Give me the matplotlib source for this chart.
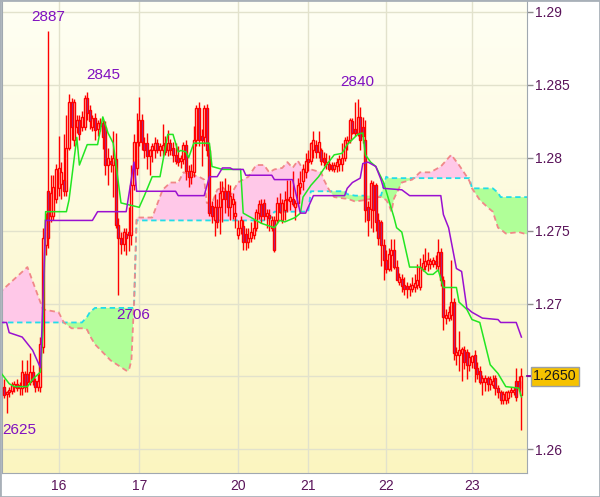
import numpy as np
import matplotlib
matplotlib.use("Agg")
import matplotlib.pyplot as plt
from matplotlib.colors import LinearSegmentedColormap
from matplotlib.transforms import blended_transform_factory
from matplotlib.patches import Rectangle

# prices are written as the last four digits, 2643 -> 1.2643
opens = [
    2643, 2638, 2639, 2640, 2643, 2645, 2642, 2642, 2652, 2652,
    2646, 2653, 2647, 2643, 2643, 2670, 2740, 2777, 2760, 2760,
    2772, 2779, 2782, 2785, 2777, 2807, 2838, 2812, 2821, 2826,
    2821, 2821, 2841, 2833, 2821, 2827, 2820, 2824, 2824, 2821,
    2795, 2798, 2795, 2799, 2754, 2745, 2741, 2748, 2749, 2747,
    2781, 2793, 2811, 2826, 2810, 2810, 2801, 2805, 2805, 2810,
    2805, 2805, 2810, 2805, 2810, 2807, 2802, 2800, 2798, 2799,
    2809, 2791, 2787, 2790, 2812, 2834, 2815, 2814, 2834, 2805,
    2767, 2757, 2766, 2766, 2772, 2777, 2777, 2766, 2768, 2760,
    2747, 2752, 2753, 2748, 2742, 2745, 2747, 2752, 2762, 2768,
    2769, 2760, 2761, 2752, 2757, 2757, 2769, 2757, 2764, 2771,
    2770, 2772, 2766, 2769, 2780, 2784, 2790, 2799, 2798, 2805,
    2809, 2804, 2805, 2800, 2796, 2796, 2795, 2792, 2794, 2796,
    2796, 2800, 2810, 2812, 2825, 2820, 2817, 2828, 2821, 2812,
    2766, 2765, 2781, 2781, 2757, 2756, 2740, 2730, 2724, 2733,
    2737, 2725, 2715, 2717, 2713, 2712, 2710, 2710, 2711, 2713,
    2711, 2724, 2726, 2727, 2727, 2727, 2729, 2726, 2735, 2716,
    2690, 2690, 2692, 2701, 2665, 2665, 2666, 2668, 2667, 2658,
    2660, 2665, 2656, 2654, 2646, 2646, 2649, 2645, 2644, 2649,
    2642, 2639, 2634, 2634, 2635, 2639, 2639, 2647, 2647, 2637,
]
highs = [
    2648, 2640, 2643, 2646, 2647, 2648, 2646, 2661, 2654, 2661,
    2666, 2658, 2649, 2652, 2677, 2752, 2762, 2887, 2788, 2788,
    2796, 2815, 2797, 2816, 2829, 2844, 2841, 2840, 2829, 2829,
    2832, 2843, 2845, 2836, 2829, 2831, 2826, 2827, 2826, 2825,
    2807, 2802, 2818, 2817, 2759, 2749, 2752, 2752, 2766, 2795,
    2816, 2831, 2842, 2830, 2814, 2817, 2806, 2810, 2814, 2813,
    2810, 2823, 2815, 2819, 2813, 2811, 2810, 2808, 2802, 2811,
    2812, 2795, 2796, 2822, 2836, 2838, 2820, 2836, 2837, 2808,
    2770, 2775, 2772, 2784, 2784, 2786, 2782, 2781, 2776, 2770,
    2757, 2760, 2757, 2752, 2752, 2756, 2758, 2765, 2771, 2772,
    2772, 2765, 2765, 2760, 2760, 2773, 2776, 2772, 2777, 2785,
    2785, 2791, 2771, 2786, 2791, 2796, 2803, 2805, 2811, 2818,
    2812, 2818, 2807, 2804, 2803, 2802, 2797, 2797, 2800, 2802,
    2810, 2814, 2815, 2827, 2827, 2838, 2840, 2835, 2828, 2826,
    2770, 2785, 2784, 2783, 2762, 2757, 2744, 2737, 2738, 2744,
    2744, 2730, 2721, 2720, 2718, 2715, 2714, 2718, 2720, 2727,
    2731, 2734, 2738, 2735, 2731, 2732, 2733, 2744, 2738, 2719,
    2696, 2698, 2730, 2704, 2670, 2681, 2670, 2671, 2669, 2667,
    2665, 2668, 2660, 2657, 2651, 2651, 2650, 2650, 2651, 2651,
    2644, 2641, 2640, 2640, 2641, 2643, 2643, 2656, 2650, 2656,
]
lows = [
    2635, 2625, 2636, 2638, 2639, 2640, 2637, 2637, 2639, 2639,
    2644, 2644, 2639, 2640, 2639, 2666, 2733, 2738, 2756, 2757,
    2769, 2774, 2772, 2774, 2774, 2805, 2812, 2808, 2817, 2812,
    2818, 2819, 2826, 2820, 2818, 2812, 2815, 2818, 2806, 2788,
    2781, 2790, 2773, 2752, 2706, 2734, 2736, 2733, 2736, 2740,
    2778, 2788, 2808, 2805, 2800, 2792, 2788, 2797, 2800, 2803,
    2801, 2801, 2802, 2801, 2802, 2797, 2796, 2794, 2793, 2796,
    2785, 2780, 2782, 2787, 2808, 2808, 2794, 2808, 2801, 2760,
    2755, 2746, 2752, 2748, 2756, 2762, 2760, 2757, 2758, 2752,
    2744, 2748, 2737, 2737, 2738, 2742, 2744, 2750, 2758, 2755,
    2757, 2752, 2750, 2750, 2735, 2755, 2762, 2755, 2757, 2763,
    2764, 2767, 2757, 2767, 2775, 2778, 2786, 2791, 2796, 2800,
    2800, 2800, 2795, 2794, 2792, 2791, 2791, 2790, 2790, 2791,
    2791, 2798, 2805, 2810, 2816, 2815, 2815, 2805, 2810, 2756,
    2746, 2752, 2749, 2750, 2740, 2726, 2716, 2721, 2722, 2722,
    2724, 2716, 2713, 2708, 2706, 2704, 2705, 2708, 2708, 2710,
    2709, 2722, 2723, 2722, 2724, 2725, 2724, 2722, 2712, 2682,
    2686, 2688, 2689, 2661, 2658, 2654, 2647, 2655, 2648, 2654,
    2656, 2646, 2648, 2645, 2637, 2640, 2640, 2641, 2642, 2637,
    2635, 2631, 2631, 2631, 2632, 2636, 2637, 2633, 2640, 2613,
]
closes = [
    2637, 2639, 2641, 2644, 2645, 2642, 2644, 2653, 2643, 2646,
    2653, 2647, 2643, 2647, 2672, 2745, 2758, 2745, 2776, 2780,
    2792, 2793, 2790, 2777, 2807, 2838, 2821, 2838, 2826, 2816,
    2828, 2841, 2831, 2825, 2827, 2819, 2824, 2822, 2814, 2795,
    2800, 2796, 2800, 2754, 2745, 2741, 2749, 2745, 2747, 2781,
    2811, 2811, 2826, 2811, 2805, 2801, 2805, 2808, 2810, 2805,
    2808, 2809, 2804, 2810, 2805, 2802, 2798, 2797, 2800, 2809,
    2791, 2787, 2791, 2812, 2834, 2812, 2812, 2834, 2805, 2762,
    2760, 2766, 2756, 2776, 2777, 2772, 2766, 2774, 2772, 2762,
    2752, 2757, 2742, 2742, 2745, 2749, 2752, 2763, 2768, 2760,
    2760, 2762, 2759, 2757, 2737, 2769, 2763, 2769, 2771, 2772,
    2773, 2768, 2769, 2781, 2783, 2792, 2798, 2797, 2810, 2812,
    2804, 2811, 2798, 2797, 2797, 2792, 2792, 2795, 2797, 2799,
    2800, 2812, 2812, 2826, 2817, 2817, 2828, 2812, 2815, 2764,
    2757, 2783, 2764, 2756, 2745, 2740, 2730, 2724, 2734, 2737,
    2725, 2716, 2718, 2712, 2710, 2710, 2712, 2713, 2714, 2716,
    2725, 2728, 2729, 2730, 2729, 2730, 2727, 2735, 2716, 2691,
    2692, 2694, 2701, 2666, 2667, 2668, 2669, 2660, 2658, 2663,
    2664, 2656, 2652, 2646, 2649, 2649, 2645, 2648, 2647, 2642,
    2639, 2634, 2638, 2639, 2639, 2641, 2641, 2636, 2642, 2650,
]

# tenkan (green) and kijun (purple), read at their turning points
tenkan_idx = [-1, 2, 4, 9, 11, 14, 15, 16, 24, 25, 28, 29, 32, 36, 38, 40, 42,
              45, 52, 54, 57, 60, 63, 65, 67, 68, 70, 71, 73, 79, 80, 84, 91,
              92, 95, 99, 104, 106, 108, 112, 114, 115, 118, 121, 124, 127,
              130, 132, 136, 138, 139, 141, 143, 146, 148, 150, 151, 153, 156,
              160, 163, 165, 167, 169, 174, 175, 178, 180, 183, 187, 190, 193,
              198, 199]
tenkan = [2652, 2645, 2643, 2643, 2648, 2653, 2682, 2763, 2763, 2771, 2814,
          2795, 2809, 2809, 2828, 2817, 2810, 2769, 2766, 2774, 2787, 2787,
          2816, 2816, 2804, 2805, 2804, 2800, 2810, 2810, 2794, 2792, 2792,
          2762, 2759, 2755, 2752, 2757, 2756, 2759, 2762, 2773, 2781, 2787,
          2795, 2802, 2803, 2809, 2816, 2817, 2802, 2797, 2794, 2783, 2771,
          2759, 2752, 2749, 2725, 2725, 2720, 2720, 2723, 2711, 2711, 2701,
          2696, 2689, 2687, 2658, 2652, 2643, 2642, 2636]
kijun_idx = [-1, 1, 2, 7, 11, 14, 15, 16, 34, 36, 47, 50, 51, 66, 67, 77, 79,
             82, 84, 87, 88, 92, 93, 103, 104, 111, 114, 116, 119, 131, 132,
             134, 137, 138, 140, 143, 145, 146, 153, 156, 168, 169, 171, 174,
             176, 178, 180, 184, 190, 191, 197, 199]
kijun = [2687, 2687, 2680, 2677, 2668, 2656, 2702, 2757, 2757, 2763, 2763,
         2797, 2777, 2777, 2774, 2774, 2787, 2787, 2793, 2793, 2792, 2792,
         2788, 2788, 2785, 2785, 2762, 2762, 2774, 2774, 2779, 2783, 2786,
         2796, 2797, 2794, 2785, 2779, 2778, 2774, 2774, 2761, 2752, 2724,
         2722, 2697, 2694, 2690, 2689, 2687, 2687, 2677]

# cloud edges: span A (cyan dashed) and span B (salmon dashed)
cloud_idx = [-2, 9, 15, 21, 23, 26, 30, 32, 33, 35, 41, 47, 48, 49, 50, 51, 57,
             61, 64, 67, 69, 73, 75, 77, 78, 80, 82, 84, 87, 90, 94, 97, 100,
             102, 104, 107, 109, 111, 113, 115, 117, 118, 122, 123, 125, 127,
             131, 132, 135, 139, 144, 145, 147, 148, 149, 150, 153, 157, 160,
             164, 168, 172, 175, 178, 179, 180, 183, 186, 188, 190, 191, 193,
             198, 202]
span_a = [2687, 2687, 2687, 2687, 2687, 2687, 2687, 2691, 2694, 2697, 2697,
          2697, 2697, 2697, 2697, 2757, 2757, 2757, 2757, 2757, 2757, 2757,
          2757, 2757, 2757, 2757, 2757, 2757, 2757, 2757, 2757, 2757, 2757,
          2757, 2763, 2763, 2763, 2763, 2763, 2763, 2763, 2777, 2777, 2777,
          2777, 2777, 2777, 2775, 2774, 2774, 2774, 2774, 2787, 2786, 2786,
          2786, 2786, 2786, 2786, 2786, 2786, 2786, 2786, 2786, 2786, 2779,
          2779, 2779, 2779, 2776, 2773, 2773, 2773, 2773]
span_b = [2707, 2725, 2696, 2694, 2687, 2683, 2683, 2682, 2678, 2672, 2661,
          2654, 2654, 2661, 2700, 2759, 2759, 2778, 2783, 2783, 2790, 2788,
          2787, 2785, 2769, 2769, 2778, 2780, 2774, 2783, 2787, 2795, 2795,
          2790, 2792, 2793, 2797, 2793, 2798, 2792, 2792, 2792, 2790, 2785,
          2778, 2773, 2772, 2772, 2770, 2771, 2773, 2773, 2771, 2768, 2763,
          2772, 2783, 2785, 2790, 2790, 2794, 2802, 2795, 2787, 2784, 2779,
          2771, 2766, 2763, 2752, 2751, 2748, 2749, 2747]

day_ticks = [21, 52, 90, 117, 147, 180]
day_labels = ["16", "17", "20", "21", "22", "23"]
price_ticks = [1.26, 1.265, 1.27, 1.275, 1.28, 1.285, 1.29]

# bars whose extreme is written on the chart
high_marks = [17, 32, 136]
low_marks = [44, 1]


def to_price(v):
    return 1 + np.asarray(v, dtype=float) / 10000.0


def main():
    plt.rcParams['font.family'] = ['Liberation Sans', 'DejaVu Sans']
    o, h, l, c = to_price(opens), to_price(highs), to_price(lows), to_price(closes)
    x = np.arange(len(c))

    fig = plt.figure(figsize=(6, 4.97), dpi=100)
    ax = fig.add_axes([2 / 600, 24 / 497, 525 / 600, 473 / 497])

    bg = LinearSegmentedColormap.from_list('bg', ['#fffff4', '#fbf5c0'])
    ax.imshow(np.linspace(0, 1, 256).reshape(-1, 1), cmap=bg, aspect='auto',
              extent=[0, 1, 0, 1], transform=ax.transAxes, origin='upper', zorder=0)

    ci = np.array(cloud_idx)
    a, b = to_price(span_a), to_price(span_b)
    ax.fill_between(ci, a, b, where=b >= a, interpolate=True, color='#ffc8e8', lw=0, zorder=1)
    ax.fill_between(ci, a, b, where=b < a, interpolate=True, color='#b0ff98', lw=0, zorder=1)
    ax.plot(ci, a, color='#22dde8', lw=1.3, ls=(0, (3, 2)), zorder=2)
    ax.plot(ci, b, color='#f08888', lw=1.3, ls=(0, (3, 2)), zorder=2)

    up = c >= o
    lo = np.minimum(o, c)
    hgt = np.abs(c - o)
    ax.vlines(x, l, h, color='#ff0000', lw=1, zorder=3)
    ax.bar(x[up], hgt[up], bottom=lo[up], width=0.8, facecolor='#fffbe2',
           edgecolor='#ff0000', lw=1.0, zorder=4)
    ax.bar(x[~up], hgt[~up], bottom=lo[~up], width=0.8, facecolor='#7a3cc0',
           edgecolor='#ff0000', lw=1.0, zorder=4)

    ax.plot(tenkan_idx, to_price(tenkan), color='#22e622', lw=1.1, zorder=5)
    ax.plot(kijun_idx, to_price(kijun), color='#9a10d0', lw=1.1, zorder=5)

    lbl = dict(fontsize=11, color='#8010c0', textcoords='offset pixels', zorder=6)
    for i, ha, dx, dy in zip(high_marks, ['center', 'left', 'center'], [0, -1, 0], [10, 13, 13]):
        ax.annotate(f'{highs[i]:04d}', (i, h[i]), xytext=(dx, dy), ha=ha, va='baseline', **lbl)
    for i, dx, dy in zip(low_marks, [-2, -4], [-13, -10]):
        ax.annotate(f'{lows[i]:04d}', (i, l[i]), xytext=(dx, dy), ha='left', va='top', **lbl)

    last = c[-1]
    ax.set_xlim(-0.77, 201.15)
    ax.set_ylim(1.258375, 1.29082)
    ax.set_xticks(day_ticks)
    ax.set_xticklabels(day_labels)
    ax.yaxis.tick_right()
    ax.set_yticks(price_ticks)
    # the last-price tag sits on top of the 1.265 label
    ax.set_yticklabels(['' if abs(t - last) < 0.001 else f'{t:g}' for t in price_ticks])
    ax.tick_params(axis='y', length=4, width=1, color='#8c8c8c', labelcolor='#5a145a',
                   labelsize=10, pad=1.5)
    ax.tick_params(axis='x', length=0, labelcolor='#5a145a', labelsize=10, pad=4.5)
    ax.set_axisbelow(True)
    ax.grid(True, color='#e2e2cc', lw=1)
    ax.spines['top'].set_visible(False)
    for s in ['left', 'bottom', 'right']:
        ax.spines[s].set_color('#a0a8b0')

    blend = blended_transform_factory(ax.transAxes, ax.transData)
    ax.plot([1.0, 1.009], [last, last], transform=blend, color='#8000a0', lw=1.3,
            clip_on=False, zorder=6)
    ax.text(1.012, last, f'{last:.4f}', transform=blend, ha='left', va='center',
            fontsize=10.3, color='#1a1a1a', zorder=10, clip_on=False,
            bbox=dict(boxstyle='square,pad=0.15', fc='#f6c200', ec='#9aa0a8', lw=1))

    fig.add_artist(Rectangle((0, 0), 1, 1, transform=fig.transFigure, fill=False,
                             ec='#a8b0b8', lw=2))
    fig.savefig('out.png', dpi=100)


if __name__ == "__main__":
    main()
